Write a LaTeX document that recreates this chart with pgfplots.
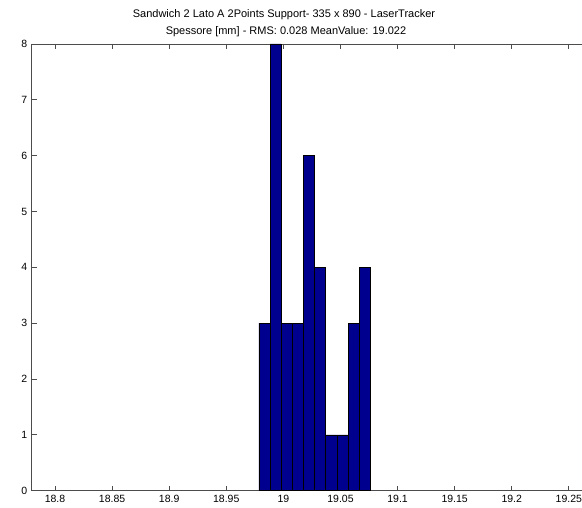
\documentclass[border=0pt]{standalone}
\usepackage{pgfplots}
\pgfplotsset{compat=1.18}
\usepackage{fontspec}
\setmainfont{Liberation Sans}
\definecolor{barblue}{rgb}{0,0,0.5625}
\definecolor{axgray}{gray}{0.3}
\begin{document}
\begin{tikzpicture}[x=1pt,y=1pt]
\begin{axis}[
  at={(31.7pt,17.3pt)}, anchor=south west,
  scale only axis,
  width=560pt, height=446.7pt,
  xmin=18.7796, xmax=19.27,
  ymin=0, ymax=8,
  xtick={18.8,18.85,18.9,18.95,19,19.05,19.1,19.15,19.2,19.25},
  ytick={0,1,2,3,4,5,6,7,8},
  xticklabels={18.8,18.85,18.9,18.95,19,19.05,19.1,19.15,19.2,19.25},
  tick align=inside,
  major tick length=5pt,
  xtick pos=both, ytick pos=left,
  axis line style={axgray, line width=0.8pt},
  every tick/.style={axgray, line width=0.8pt},
  ticklabel style={font=\fontsize{10.5}{12}\selectfont, text=black},
  /pgf/number format/assume math mode=true,
  xticklabel style={yshift=-1pt},
  yticklabel style={xshift=-1pt},
]
\addplot[ybar interval, fill=barblue, draw=black, line width=0.5pt] coordinates {
(18.9786,3) (18.98835,8) (18.9981,3) (19.00785,3) (19.0176,6)
(19.02735,4) (19.0371,1) (19.04685,1) (19.0566,3) (19.06635,4) (19.0761,4)
};
\end{axis}
\node[font=\fontsize{11}{13}\selectfont, inner sep=0] at (284pt,493pt) {Sandwich 2 Lato A 2Points Support- 335 x 890 - LaserTracker};
\node[font=\fontsize{11}{13}\selectfont, inner sep=0] at (286pt,476.3pt) {Spessore [mm] - RMS: 0.028 MeanValue: 19.022};
\pgfresetboundingbox
\path[use as bounding box] (0,0) rectangle (582pt,508pt);
\end{tikzpicture}
\end{document}
